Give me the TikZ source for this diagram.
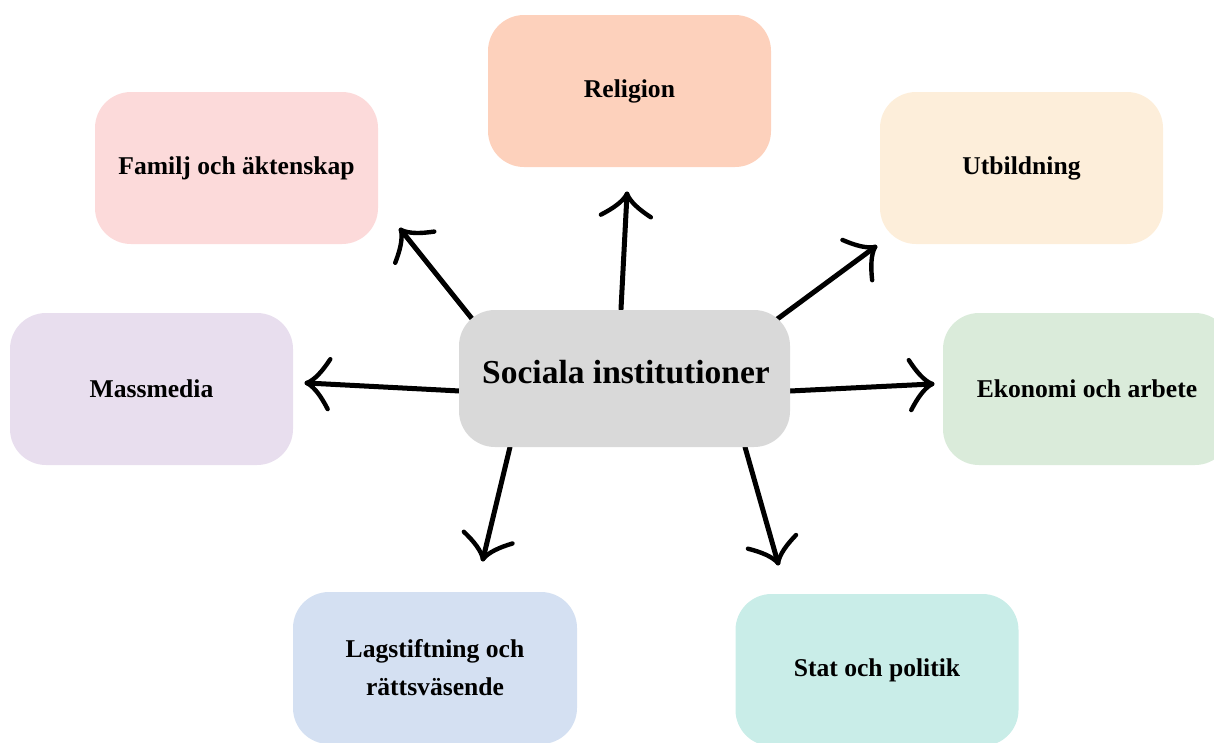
\documentclass[tikz,border=0pt]{standalone}
\usepackage{fontspec}
\setmainfont{Liberation Serif}
\pgfdeclarelayer{bg}
\pgfsetlayers{bg,main}
\definecolor{cgray}{HTML}{D9D9D9}
\definecolor{crel}{HTML}{FDD1BC}
\definecolor{cfam}{HTML}{FCDADA}
\definecolor{cutb}{HTML}{FDEEDA}
\definecolor{cmas}{HTML}{E8DEEE}
\definecolor{ceko}{HTML}{DAEBDA}
\definecolor{clag}{HTML}{D4E0F2}
\definecolor{csta}{HTML}{C9EDE8}
\begin{document}
\begin{tikzpicture}[x=1pt,y=-1pt,
  box/.style={rounded corners=36pt, minimum width=283pt, minimum height=152pt,
    inner sep=0pt, font=\fontsize{25.6}{38}\selectfont\bfseries, align=center},
  arr/.style={line width=5pt, line cap=round},
  hhead/.pic={
    \draw[line width=4.4pt, line cap=round]
      (0,0) .. controls (-8,-4) and (-15,-13) .. (-22,-25)
      (0,0) .. controls (-8,4) and (-15,13) .. (-22,25);
  }]
\useasboundingbox (0,0) rectangle (1214,742);

% outer boxes
\node[box, fill=crel] (rel) at (629.5,91) {Religion};
\node[box, fill=cfam] (fam) at (236.5,168) {Familj och äktenskap};
\node[box, fill=cutb] (utb) at (1021.5,168) {Utbildning};
\node[box, fill=cmas] (mas) at (151.5,389) {Massmedia};
\node[box, fill=ceko, minimum width=288pt] (eko) at (1087,389) {Ekonomi och arbete};
\node[box, fill=clag, minimum width=284pt] (lag) at (435,668) {Lagstiftning och\\rättsväsende};
\node[box, fill=csta] (sta) at (877,670) {Stat och politik};

% center box
\node[box, fill=cgray, minimum width=331pt, minimum height=137pt] (c) at (624.5,378.5) {};
\node[font=\fontsize{33.5}{40}\selectfont\bfseries, inner sep=0pt] (ct) at (626,372) {Sociala institutioner};

% arrow tips
\coordinate (t1) at (401,230);
\coordinate (t2) at (627,194);
\coordinate (t3) at (875,247);
\coordinate (t4) at (307,383);
\coordinate (t5) at (932,384);
\coordinate (t6) at (483,559);
\coordinate (t7) at (778,563);

\begin{pgfonlayer}{bg}
\draw[arr] ([shift={(-151.5,-58.5)}]c.center) -- (t1) pic[pos=1, sloped, allow upside down] {hhead};
\draw[arr] ([shift={(-3.5,-69.5)}]c.center) -- (t2) pic[pos=1, sloped, allow upside down] {hhead};
\draw[arr] ([shift={(151.5,-58.5)}]c.center) -- (t3) pic[pos=1, sloped, allow upside down] {hhead};
\draw[arr] ([shift={(-164.5,12.5)}]c.center) -- (t4) pic[pos=1, sloped, allow upside down] {hhead};
\draw[arr] ([shift={(165.5,12.5)}]c.center) -- (t5) pic[pos=1, sloped, allow upside down] {hhead};
\draw[arr] ([shift={(-114.5,68.5)}]c.center) -- (t6) pic[pos=1, sloped, allow upside down] {hhead};
\draw[arr] ([shift={(120.5,68.5)}]c.center) -- (t7) pic[pos=1, sloped, allow upside down] {hhead};
\end{pgfonlayer}
\end{tikzpicture}
\end{document}
